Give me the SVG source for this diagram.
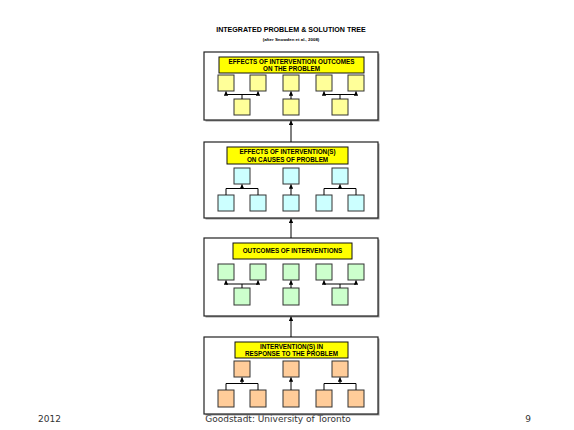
<svg xmlns="http://www.w3.org/2000/svg" width="574" height="430" viewBox="0 0 574 430">
<style>
.bg{fill:#ffffff}
.panel{fill:#ffffff;stroke:#222;stroke-width:1.2}
.pshadow{fill:#999}
.label{fill:#ffff00;stroke:#111;stroke-width:1}
.lt{font-family:"Liberation Sans",Arial,sans-serif;font-weight:bold;font-size:6.3px;fill:#000;text-anchor:middle}
.bx{stroke:#333;stroke-width:1}
.y{fill:#ffff99}
.c{fill:#ccffff}
.g{fill:#ccffcc}
.o{fill:#ffcc99}
.ln{stroke:#000;stroke-width:1;fill:none}
.ft{font-family:"DejaVu Sans",Verdana,sans-serif;font-size:9px;fill:#333}
</style>
<defs>
<marker id="ah" viewBox="0 0 6 6" refX="5.5" refY="3" markerWidth="4.5" markerHeight="4.5" orient="auto" markerUnits="userSpaceOnUse">
<path d="M0,0 L6,3 L0,6 z" fill="#000"/>
</marker>
</defs>
<rect width="574" height="430" class="bg"/>
<g id="footer">
<text x="38" y="421.5" class="ft">2012</text>
<text x="278" y="421.5" class="ft" text-anchor="middle">Goodstadt: University of Toronto</text>
<text x="528" y="421.5" class="ft" text-anchor="middle">9</text>
</g>
<g id="title">
<text x="291" y="32" font-family="Liberation Sans,Arial,sans-serif" font-weight="bold" font-size="7.1" text-anchor="middle" fill="#000">INTEGRATED PROBLEM &amp; SOLUTION TREE</text>
<text x="291" y="40.5" font-family="Liberation Sans,Arial,sans-serif" font-weight="bold" font-size="4.4" text-anchor="middle" fill="#000">(after Snowden et al., 2008)</text>
</g>

<g id="panel1">
<rect x="205.5" y="53.5" width="174" height="68" class="pshadow"/>
<rect x="204" y="52" width="174" height="68" class="panel"/>
<rect x="219" y="57" width="145" height="16" class="label"/>
<text x="291.5" y="64" class="lt">EFFECTS OF INTERVENTION OUTCOMES</text>
<text x="291.5" y="71" class="lt">ON THE PROBLEM</text>
<g class="bx y">
<rect x="218" y="75" width="16" height="16"/><rect x="250" y="75" width="16" height="16"/><rect x="283" y="75" width="16" height="16"/><rect x="316" y="75" width="16" height="16"/><rect x="348" y="75" width="16" height="16"/>
<rect x="234" y="99" width="16" height="16"/><rect x="283" y="99" width="16" height="16"/><rect x="332" y="99" width="16" height="16"/>
</g>
</g>

<g id="panel2">
<rect x="205.5" y="143.5" width="174" height="76" class="pshadow"/>
<rect x="204" y="142" width="174" height="76" class="panel"/>
<rect x="227" y="147" width="121" height="17" class="label"/>
<text x="287.5" y="154" class="lt">EFFECTS OF INTERVENTION(S)</text>
<text x="287.5" y="161.5" class="lt">ON CAUSES OF PROBLEM</text>
<g class="bx c">
<rect x="234" y="168" width="16" height="16"/><rect x="283" y="168" width="16" height="16"/><rect x="332" y="168" width="16" height="16"/>
<rect x="218" y="195" width="16" height="16"/><rect x="250" y="195" width="16" height="16"/><rect x="283" y="195" width="16" height="16"/><rect x="316" y="195" width="16" height="16"/><rect x="348" y="195" width="16" height="16"/>
</g>
</g>

<g id="panel3">
<rect x="205.5" y="239.5" width="174" height="78" class="pshadow"/>
<rect x="204" y="238" width="174" height="78" class="panel"/>
<rect x="233" y="243" width="119" height="16" class="label"/>
<text x="292.5" y="253.3" class="lt">OUTCOMES OF INTERVENTIONS</text>
<g class="bx g">
<rect x="218" y="264" width="16" height="16"/><rect x="250" y="264" width="16" height="16"/><rect x="283" y="264" width="16" height="16"/><rect x="316" y="264" width="16" height="16"/><rect x="348" y="264" width="16" height="16"/>
<rect x="234" y="288" width="16" height="17"/><rect x="283" y="288" width="16" height="17"/><rect x="332" y="288" width="16" height="17"/>
</g>
</g>

<g id="panel4">
<rect x="205.5" y="338.5" width="174" height="77" class="pshadow"/>
<rect x="204" y="337" width="174" height="77" class="panel"/>
<rect x="235" y="342" width="113" height="16" class="label"/>
<text x="291.5" y="348.5" class="lt">INTERVENTION(S) IN</text>
<text x="291.5" y="356" class="lt">RESPONSE TO THE PROBLEM</text>
<g class="bx o">
<rect x="234" y="361" width="16" height="16"/><rect x="283" y="361" width="16" height="16"/><rect x="332" y="361" width="16" height="16"/>
<rect x="218" y="390" width="16" height="17"/><rect x="250" y="390" width="16" height="17"/><rect x="283" y="390" width="16" height="17"/><rect x="316" y="390" width="16" height="17"/><rect x="348" y="390" width="16" height="17"/>
</g>
</g>

<g id="connectors" class="ln">
<path d="M242,99 V94.5 M226,94.5 H258 M324,94.5 H356 M340,99 V94.5"/>
<path d="M226,94.5 V91.5" marker-end="url(#ah)"/>
<path d="M258,94.5 V91.5" marker-end="url(#ah)"/>
<path d="M324,94.5 V91.5" marker-end="url(#ah)"/>
<path d="M356,94.5 V91.5" marker-end="url(#ah)"/>
<path d="M291,99 V91.5" marker-end="url(#ah)"/>
<path d="M226,195 V188.5 H258 V195 M324,195 V188.5 H356 V195"/>
<path d="M242,188.5 V184.5" marker-end="url(#ah)"/>
<path d="M340,188.5 V184.5" marker-end="url(#ah)"/>
<path d="M291,195 V184.5" marker-end="url(#ah)"/>
<path d="M242,288 V284 M226,284 H258 M324,284 H356 M340,288 V284"/>
<path d="M226,284 V280.5" marker-end="url(#ah)"/>
<path d="M258,284 V280.5" marker-end="url(#ah)"/>
<path d="M324,284 V280.5" marker-end="url(#ah)"/>
<path d="M356,284 V280.5" marker-end="url(#ah)"/>
<path d="M291,288 V280.5" marker-end="url(#ah)"/>
<path d="M226,390 V383.5 H258 V390 M324,390 V383.5 H356 V390"/>
<path d="M242,383.5 V377.5" marker-end="url(#ah)"/>
<path d="M340,383.5 V377.5" marker-end="url(#ah)"/>
<path d="M291,390 V377.5" marker-end="url(#ah)"/>
<path d="M291,337 V316.8" marker-end="url(#ah)"/>
<path d="M291,238 V218.8" marker-end="url(#ah)"/>
<path d="M291,142 V120.8" marker-end="url(#ah)"/>
</g>
</svg>
